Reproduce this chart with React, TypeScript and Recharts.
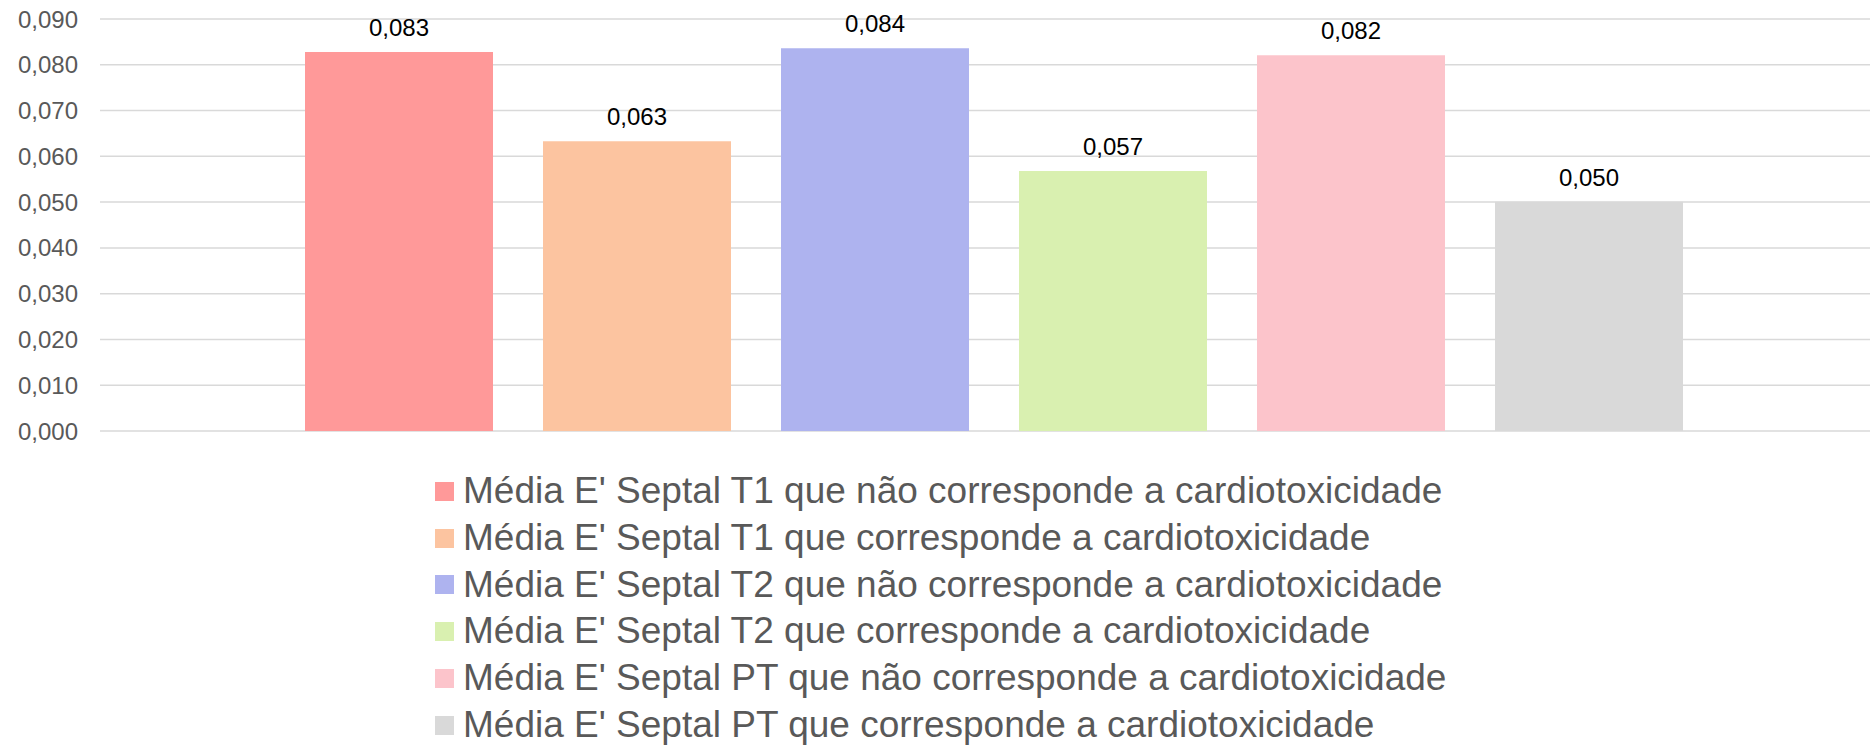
import { BarChart, Bar, XAxis, YAxis, CartesianGrid, Legend, LabelList } from 'recharts';

const categories = ['Média E\' Septal'];

const seriesNames = [
  "Média E' Septal T1 que não corresponde a cardiotoxicidade",
  "Média E' Septal T1 que corresponde a cardiotoxicidade",
  "Média E' Septal T2 que não corresponde a cardiotoxicidade",
  "Média E' Septal T2 que corresponde a cardiotoxicidade",
  "Média E' Septal PT que não corresponde a cardiotoxicidade",
  "Média E' Septal PT que corresponde a cardiotoxicidade",
];

const seriesValues = [0.0828, 0.0633, 0.0836, 0.0568, 0.0821, 0.0501];

const seriesColors = ['#FF9999', '#FCC4A0', '#AEB3EF', '#D9F0B0', '#FCC4CB', '#D9D9D9'];

const yTicks = [0, 0.01, 0.02, 0.03, 0.04, 0.05, 0.06, 0.07, 0.08, 0.09];

const data = categories.map((name) => {
  const row: Record<string, string | number> = { name };
  seriesValues.forEach((v, i) => {
    row['s' + i] = v;
  });
  return row;
});

const font = '"Liberation Sans", Arial, sans-serif';
const fmt = (v: number) => Number(v).toFixed(3).replace('.', ',');

const LegendContent = () => (
  <div style={{ fontFamily: font, fontSize: 37, lineHeight: '46.8px', color: '#595959', whiteSpace: 'nowrap' }}>
    {seriesNames.map((n, i) => (
      <div key={n} style={{ display: 'flex', alignItems: 'center' }}>
        <span style={{ display: 'inline-block', width: 19, height: 19, background: seriesColors[i], marginRight: 9 }} />
        <span>{n}</span>
      </div>
    ))}
  </div>
);

export default function App() {
  return (
    <div>
      <style>{'body{margin:0;background:#fff}'}</style>
      <BarChart
        width={1870}
        height={747}
        data={data}
        margin={{ top: 19, right: 0, left: 0, bottom: 316 }}
        barSize={188}
        barGap={50}
      >
        <CartesianGrid vertical={false} stroke="#D9D9D9" strokeWidth={1.5} />
        <XAxis dataKey="name" hide padding={{ left: 18, right: 0 }} />
        <YAxis
          width={100}
          domain={[0, 0.09]}
          ticks={yTicks}
          tickFormatter={fmt}
          axisLine={false}
          tickLine={false}
          tickSize={0}
          tickMargin={22}
          tick={{ fill: '#595959', fontSize: 24, fontFamily: font }}
          interval={0}
        />
        <Legend
          layout="horizontal"
          verticalAlign="middle"
          align="center"
          content={<LegendContent />}
          wrapperStyle={{ left: 435, top: 468, width: 'auto', height: 'auto' }}
        />
        {seriesNames.map((n, i) => (
          <Bar key={n} dataKey={'s' + i} name={n} fill={seriesColors[i]} isAnimationActive={false}>
            <LabelList
              dataKey={'s' + i}
              position="top"
              offset={16}
              formatter={fmt}
              style={{ fill: '#000', fontSize: 24, fontFamily: font }}
            />
          </Bar>
        ))}
      </BarChart>
    </div>
  );
}
